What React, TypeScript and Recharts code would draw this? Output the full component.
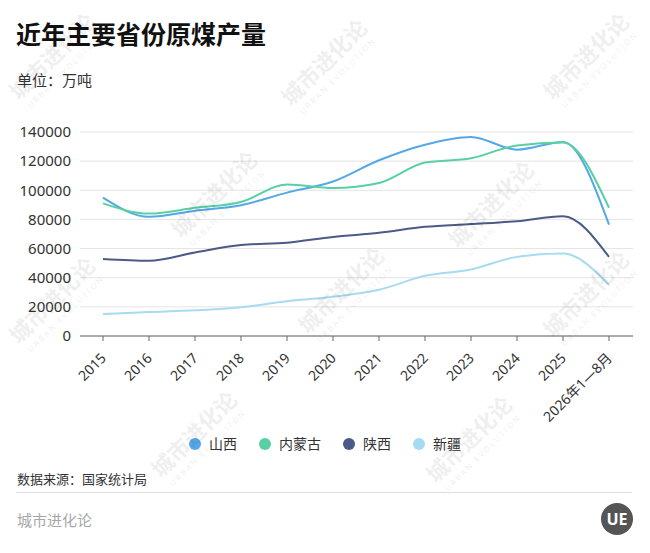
import React from 'react';
import {CartesianGrid, Line, LineChart, XAxis, YAxis} from 'recharts';

const years = ['2015', '2016', '2017', '2018', '2019', '2020', '2021', '2022', '2023', '2024', '2025', '2026年1—8月'];

// 万吨
const shanxi = [95000, 81800, 86000, 89800, 98400, 106000, 120600, 131300, 136600, 127900, 133200, 76500];
const neimenggu = [91000, 84000, 88000, 92000, 104000, 101500, 105000, 119000, 122000, 130800, 132800, 88000];
const shaanxi = [52800, 51600, 57300, 62400, 64000, 68000, 70800, 74900, 76800, 78800, 82200, 54300];
const xinjiang = [15100, 16400, 17600, 19700, 23800, 26900, 31700, 41300, 45700, 54300, 56600, 35000];

const yTicks = [0, 20000, 40000, 60000, 80000, 100000, 120000, 140000];

const series = [
  {key: 'shanxi', name: '山西', color: '#55a8e8', values: shanxi},
  {key: 'neimenggu', name: '内蒙古', color: '#58d0a4', values: neimenggu},
  {key: 'shaanxi', name: '陕西', color: '#4b5a87', values: shaanxi},
  {key: 'xinjiang', name: '新疆', color: '#a6dbf1', values: xinjiang},
];

const chartData = years.map((year, i) => {
  const row: { [key: string]: string | number } = {year};
  series.forEach((s) => {
    row[s.key] = s.values[i];
  });
  return row;
});

const FONT = "'Noto Sans', 'Noto Sans CJK SC', sans-serif";

// watermark tile centres
const marks = [
  [58, 62], [330, 68], [592, 62],
  [220, 200], [497, 210],
  [58, 306], [347, 296], [592, 300],
  [200, 440], [475, 445],
];

const YearTick = ({x, y, payload}: any) => (
  <g transform={`translate(${x + 4},${y + 16})`}>
    <text x={0} y={0} textAnchor="end" transform="rotate(-45)" fill="#333" fontSize={14} fontFamily={FONT}>
      {payload.value}
    </text>
  </g>
);

const abs = (top: number, left: number, extra: React.CSSProperties = {}): React.CSSProperties => ({
  position: 'absolute', top, left, whiteSpace: 'nowrap', fontFamily: FONT, ...extra,
});

const App = () => {
  return (
    <div style={{position: 'absolute', left: 0, top: 0, width: 650, height: 553, background: '#fff', overflow: 'hidden'}}>
      <div style={abs(21, 16, {fontSize: 25, lineHeight: '26px', fontWeight: 700, color: '#111'})}>近年主要省份原煤产量</div>
      <div style={abs(72, 17, {fontSize: 15, lineHeight: '16px', color: '#333'})}>单位：万吨</div>

      <div style={{position: 'absolute', left: 0, top: 0}}>
        <LineChart
          width={650}
          height={553}
          data={chartData}
          margin={{top: 132, right: 17, bottom: 137, left: 0}}
        >
          <CartesianGrid vertical={false} stroke="#e4e4e4"/>
          <XAxis
            dataKey="year"
            interval={0}
            height={80}
            padding={{left: 23, right: 24}}
            stroke="#666"
            tickSize={5}
            tick={<YearTick/>}
          />
          <YAxis
            width={80}
            domain={[0, 140000]}
            ticks={yTicks}
            axisLine={false}
            tickLine={false}
            tickMargin={3}
            tick={{fill: '#333', fontSize: 15, fontFamily: FONT}}
          />
          {series.map(s => <Line
            key={s.key}
            type="monotone"
            dataKey={s.key}
            name={s.name}
            stroke={s.color}
            strokeWidth={2}
            dot={false}
            isAnimationActive={false}
          />)}
        </LineChart>
      </div>

      <div style={{
        position: 'absolute', top: 435, left: 0, width: 650, display: 'flex',
        justifyContent: 'center', alignItems: 'center', fontFamily: FONT, fontSize: 14, color: '#333',
      }}>
        {series.map((s, i) => (
          <div key={s.key} style={{display: 'flex', alignItems: 'center', marginLeft: i ? 22 : 0}}>
            <span style={{width: 12, height: 12, borderRadius: 6, background: s.color, marginRight: 8}}/>
            <span style={{lineHeight: '18px'}}>{s.name}</span>
          </div>
        ))}
      </div>

      <div style={abs(472, 17, {fontSize: 13, lineHeight: '14px', color: '#333'})}>数据来源：国家统计局</div>
      <div style={{position: 'absolute', top: 492, left: 16, width: 616, height: 1, background: '#dedede'}}/>
      <div style={abs(512, 17, {fontSize: 15, lineHeight: '16px', color: '#a8a8a8'})}>城市进化论</div>

      <svg width={650} height={553} style={{position: 'absolute', left: 0, top: 0, pointerEvents: 'none'}}>
        <circle cx={617} cy={519} r={16} fill="#555"/>
        <text x={617} y={525} textAnchor="middle" fill="#fff" fontSize={16} fontWeight={700} fontFamily={FONT}>UE</text>
        {marks.map(([cx, cy], i) => (
          <g key={i} transform={`translate(${cx},${cy}) rotate(-45)`} fill="#000" opacity={0.06}>
            <text x={0} y={0} textAnchor="middle" fontSize={22} fontWeight={700} fontFamily={FONT}>城市进化论</text>
            <text x={0} y={14} textAnchor="middle" fontSize={8} letterSpacing={2} fontFamily={FONT}>URBAN EVOLUTION</text>
          </g>
        ))}
      </svg>
    </div>
  );
};

export default App;
